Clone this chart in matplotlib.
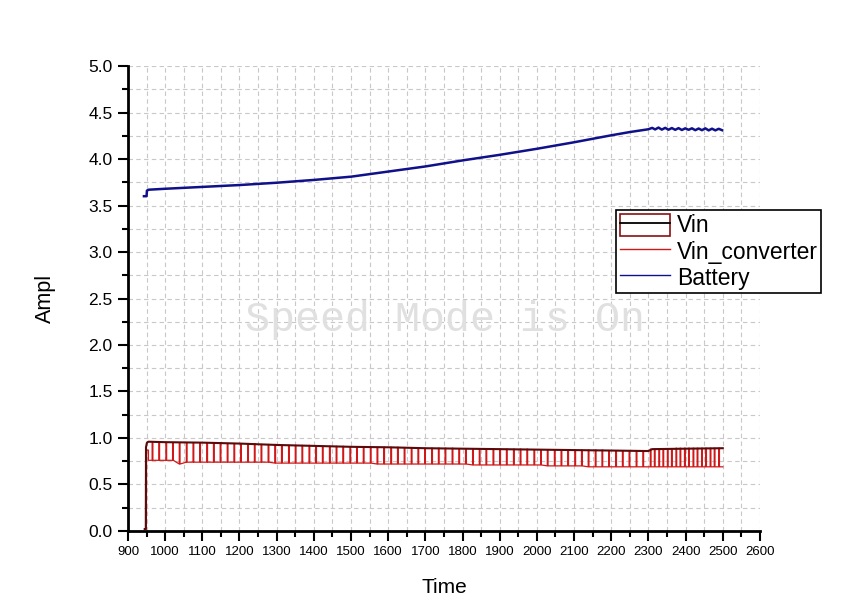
import matplotlib
matplotlib.use('Agg')
import matplotlib.pyplot as plt
from matplotlib.lines import Line2D
from matplotlib.patches import Patch
from matplotlib.legend_handler import HandlerTuple
from matplotlib.ticker import MultipleLocator

# Vin (dark red / black trace)
vin_t = [945, 948, 948.5, 951, 955, 1000, 1100, 1200, 1300, 1400, 1500, 1600, 1700,
         1800, 1900, 2000, 2100, 2200, 2290, 2300, 2310, 2400, 2500]
vin_v = [0.02, 0.02, 0.90, 0.95, 0.96, 0.955, 0.95, 0.94, 0.925, 0.915, 0.905, 0.90, 0.89,
         0.885, 0.88, 0.875, 0.87, 0.865, 0.86, 0.86, 0.88, 0.885, 0.89]

# Vin_converter: start-up, then narrow pulses from a low level up to Vin
conv_start_t = [945, 949.5, 950, 955, 955]
conv_start_v = [0.02, 0.02, 0.87, 0.87, 0.76]
pulse_t = [965, 983, 1002, 1020, 1038, 1057, 1075, 1093, 1112, 1130, 1148, 1167, 1185, 1203,
           1222, 1240, 1258, 1277, 1295,
           1313, 1332, 1350, 1368, 1387, 1405, 1423, 1442, 1460, 1478, 1497, 1515, 1533,
           1552, 1570, 1588, 1607, 1625, 1643,
           1662, 1680, 1698, 1717, 1735, 1753, 1772, 1790, 1808, 1827, 1845, 1863, 1882,
           1900, 1918, 1937, 1955, 1973, 1992,
           2010, 2028, 2047, 2065, 2083, 2102, 2120, 2138, 2157, 2175, 2193, 2212, 2230,
           2248, 2267, 2285,
           2305, 2316, 2328, 2339, 2351, 2362, 2374, 2385, 2397, 2408, 2420, 2431, 2443,
           2454, 2466, 2477, 2489]
pulse_lo = [0.76, 0.76, 0.76, 0.76, 0.72, 0.74, 0.74, 0.74, 0.74, 0.74, 0.74, 0.74, 0.74, 0.74,
            0.74, 0.74, 0.74, 0.74, 0.73,
            0.73, 0.73, 0.73, 0.73, 0.73, 0.73, 0.73, 0.73, 0.73, 0.73, 0.73, 0.73, 0.73,
            0.73, 0.72, 0.72, 0.72, 0.72, 0.72,
            0.72, 0.72, 0.72, 0.72, 0.72, 0.72, 0.72, 0.72, 0.72, 0.71, 0.71, 0.71, 0.71,
            0.71, 0.71, 0.71, 0.71, 0.71, 0.71,
            0.71, 0.70, 0.70, 0.70, 0.70, 0.70, 0.70, 0.69, 0.69, 0.69, 0.69, 0.69, 0.69,
            0.69, 0.69, 0.69,
            0.69, 0.69, 0.69, 0.69, 0.69, 0.69, 0.69, 0.69, 0.69, 0.69, 0.69, 0.69, 0.69,
            0.69, 0.69, 0.69, 0.69]
pulse_hi = [0.95, 0.95, 0.95, 0.95, 0.95, 0.95, 0.95, 0.95, 0.95, 0.95, 0.95, 0.94, 0.94, 0.94,
            0.94, 0.94, 0.93, 0.93, 0.93,
            0.92, 0.92, 0.92, 0.92, 0.92, 0.91, 0.91, 0.91, 0.91, 0.91, 0.90, 0.90, 0.90,
            0.90, 0.90, 0.90, 0.90, 0.90, 0.89,
            0.89, 0.89, 0.89, 0.89, 0.89, 0.89, 0.89, 0.88, 0.88, 0.88, 0.88, 0.88, 0.88,
            0.88, 0.88, 0.88, 0.88, 0.88, 0.87,
            0.87, 0.87, 0.87, 0.87, 0.87, 0.87, 0.87, 0.87, 0.87, 0.87, 0.86, 0.86, 0.86,
            0.86, 0.86, 0.86,
            0.88, 0.88, 0.88, 0.88, 0.88, 0.88, 0.89, 0.89, 0.89, 0.89, 0.89, 0.89, 0.89,
            0.89, 0.89, 0.89, 0.89]
conv_end_t = [2500]
conv_end_v = [0.69]

# Battery (blue trace)
bat_t = [943, 950, 951, 956, 1000, 1100, 1200, 1300, 1400, 1500, 1600, 1700, 1800, 1900,
         2000, 2100, 2200, 2250, 2300,
         2310, 2318, 2327, 2336, 2345, 2354, 2363, 2372, 2381, 2390, 2399, 2408, 2417,
         2426, 2435, 2444, 2453, 2462, 2471, 2480, 2489, 2498]
bat_v = [3.60, 3.60, 3.66, 3.67, 3.68, 3.70, 3.72, 3.745, 3.775, 3.81, 3.865, 3.92, 3.985, 4.045,
         4.11, 4.18, 4.255, 4.29, 4.32,
         4.335, 4.318, 4.338, 4.316, 4.335, 4.315, 4.333, 4.314, 4.332, 4.312, 4.33, 4.314,
         4.33, 4.31, 4.328, 4.31, 4.33, 4.308, 4.326, 4.308, 4.325, 4.31]

# build the converter trace from the pulse lists
conv_x = list(conv_start_t)
conv_y = list(conv_start_v)
for t, lo, hi in zip(pulse_t, pulse_lo, pulse_hi):
    conv_x += [t, t, t + 2, t + 2]
    conv_y += [lo, hi, hi, lo]
conv_x += conv_end_t
conv_y += conv_end_v

fig = plt.figure(figsize=(8.43, 6.13), dpi=100)
ax = fig.add_axes([0.1518, 0.1338, 0.7497, 0.7585])

col_vin = '#5a0a0a'
col_conv = '#d01818'
col_bat = '#10108a'

ax.plot(conv_x, conv_y, color=col_conv, lw=0.9)
ax.plot(vin_t, vin_v, color=col_vin, lw=1.5)
ax.plot(bat_t, bat_v, color=col_bat, lw=1.8)

ax.set_xlim(900, 2600)
ax.set_ylim(0, 5)
ax.xaxis.set_major_locator(MultipleLocator(100))
ax.xaxis.set_minor_locator(MultipleLocator(50))
ax.yaxis.set_major_locator(MultipleLocator(0.5))
ax.yaxis.set_minor_locator(MultipleLocator(0.25))
ax.yaxis.set_major_formatter(plt.FormatStrFormatter('%.1f'))

ax.grid(True, which='both', color='#c8c8c8', ls=(0, (4, 3)), lw=0.8)
ax.set_axisbelow(True)
for s in ['top', 'right']:
    ax.spines[s].set_visible(False)
for s in ['left', 'bottom']:
    ax.spines[s].set_linewidth(2)

ax.tick_params(which='major', direction='out', length=7, width=1.5, pad=4)
ax.tick_params(which='minor', direction='out', length=4, width=1.5)
for lab in ax.get_xticklabels():
    lab.set_family(['Liberation Sans Narrow', 'Liberation Sans'])
    lab.set_fontsize(9.5)
for lab in ax.get_yticklabels():
    lab.set_family(['Liberation Sans', 'DejaVu Sans'])
    lab.set_fontsize(12.5)

ax.set_xlabel('Time', fontsize=15, family=['Liberation Sans', 'DejaVu Sans'], labelpad=14)
ax.set_ylabel('Ampl', fontsize=15.5, family=['Liberation Sans', 'DejaVu Sans'], labelpad=23)

# watermark
fig.text(0.528, 0.478, 'Speed Mode is On', color='#e0e0e0', fontsize=30,
         family=['Liberation Mono', 'DejaVu Sans Mono'], ha='center', va='center')

h_vin = (Patch(facecolor='white', edgecolor='#8a1010', lw=1.2),
         Line2D([], [], color='black', lw=1.3))
h_conv = Line2D([], [], color=col_conv, lw=1)
h_bat = Line2D([], [], color=col_bat, lw=1)
leg = fig.legend([h_vin, h_conv, h_bat], ['Vin', 'Vin_converter', 'Battery'],
                 handler_map={tuple: HandlerTuple(ndivide=1)},
                 loc='upper left', bbox_to_anchor=(0.731, 0.657),
                 prop={'family': ['Liberation Sans', 'DejaVu Sans'], 'size': 16.5},
                 frameon=True, fancybox=False, framealpha=1, edgecolor='black',
                 borderpad=0.15, labelspacing=0.1, handlelength=2.2, handleheight=1.1,
                 handletextpad=0.3, borderaxespad=0)
leg.get_frame().set_linewidth(1.2)

fig.savefig('out.png', dpi=100)
